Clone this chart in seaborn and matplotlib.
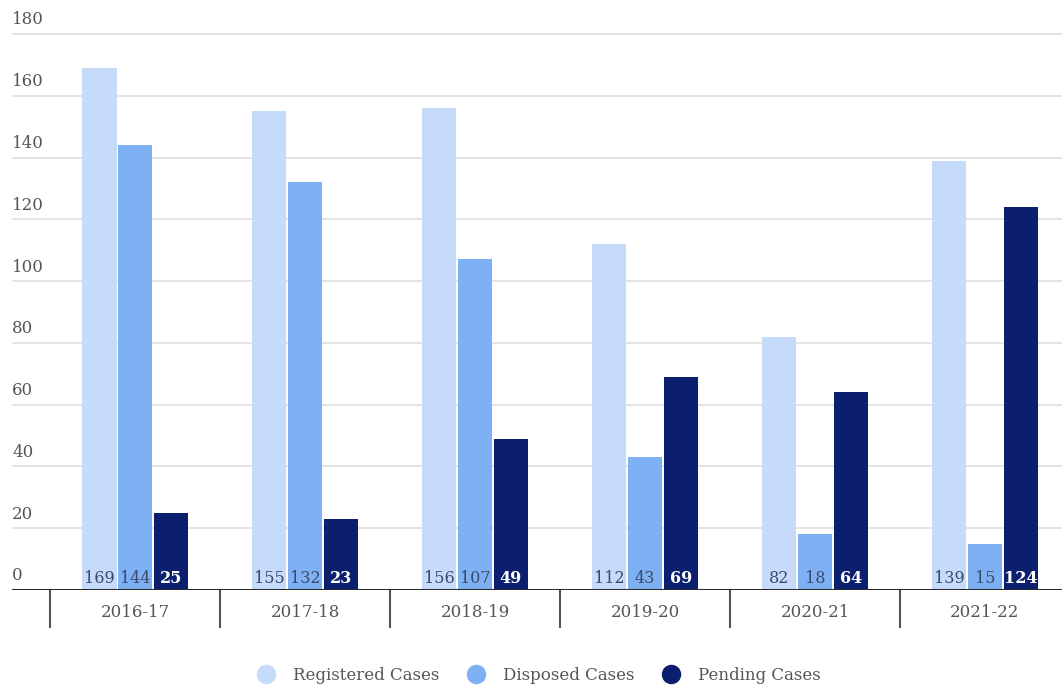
import matplotlib
matplotlib.use('Agg')
import matplotlib.pyplot as plt
import seaborn as sns
import pandas as pd
from matplotlib.lines import Line2D
from matplotlib.transforms import blended_transform_factory

years = ['2016-17', '2017-18', '2018-19', '2019-20', '2020-21', '2021-22']
registered = [169, 155, 156, 112, 82, 139]
disposed = [144, 132, 107, 43, 18, 15]
pending = [25, 23, 49, 69, 64, 124]
series = ['Registered Cases', 'Disposed Cases', 'Pending Cases']
colors = ['#c5dbf9', '#7eb1f4', '#0b1f6e']
y_ticks = [0, 20, 40, 60, 80, 100, 120, 140, 160, 180]

sns.set_theme(style='white')
plt.rcParams['font.family'] = ['DejaVu Serif']

df = pd.DataFrame({
    'Year': years * 3,
    'Series': [series[0]] * 6 + [series[1]] * 6 + [series[2]] * 6,
    'Cases': registered + disposed + pending,
})

W, H = 1062, 686
fig = plt.figure(figsize=(W / 100, H / 100), dpi=100)
ax = fig.add_axes([12 / W, 96 / H, 1050 / W, 590 / H])

sns.barplot(data=df, x='Year', y='Cases', hue='Series', hue_order=series,
            palette=colors, width=0.63, gap=0.04, saturation=1,
            errorbar=None, linewidth=0, legend=False, ax=ax)

ax.set_xlabel('')
ax.set_ylabel('')
for s in ax.spines.values():
    s.set_visible(False)

ax.set_yticks(y_ticks)
ax.grid(axis='y', color='#e4e4e4', linewidth=1.4)
ax.grid(axis='x', visible=False)
ax.set_axisbelow(True)
ax.tick_params(axis='y', length=0, labelleft=False)
ax.axhline(0, color='#2a2a2a', linewidth=2.2, zorder=5)

ax.set_xticks(range(len(years)))
ax.set_xticklabels(years)
ax.set_xticks([i - 0.5 for i in range(len(years) + 1)], minor=True)
ax.tick_params(axis='x', which='major', length=0, pad=10, labelsize=12, labelcolor='#555555')
ax.tick_params(axis='x', which='minor', length=27, width=1.5, color='#555555', direction='out', bottom=True)

ax.set_xlim(-0.724, 5.453)
ax.set_ylim(0, 191)

trans = blended_transform_factory(ax.transAxes, ax.transData)
for v in y_ticks:
    ax.annotate(str(v), xy=(0, v), xycoords=trans, xytext=(0, 4), textcoords='offset points',
                ha='left', va='bottom', fontsize=12, color='#555555', annotation_clip=False)

label_colors = ['#3b4a6b', '#3b4a6b', 'white']
label_weights = ['normal', 'normal', 'bold']
all_vals = [registered, disposed, pending]
for cont, vals, lc, lw in zip(ax.containers, all_vals, label_colors, label_weights):
    for bar, v in zip(cont, vals):
        ax.text(bar.get_x() + bar.get_width() / 2, 2.4, str(v), ha='center', va='baseline',
                fontsize=11.5, color=lc, fontweight=lw, zorder=6)

handles = [Line2D([], [], marker='o', linestyle='', markersize=13,
                  markerfacecolor=c, markeredgecolor=c) for c in colors]
fig.legend(handles, series, loc='center', bbox_to_anchor=(535 / W, 1 - 675 / H), ncol=3,
           frameon=False, fontsize=12, labelcolor='#555555', handletextpad=0.6,
           columnspacing=1.2)

fig.savefig('out.png', dpi=100)
